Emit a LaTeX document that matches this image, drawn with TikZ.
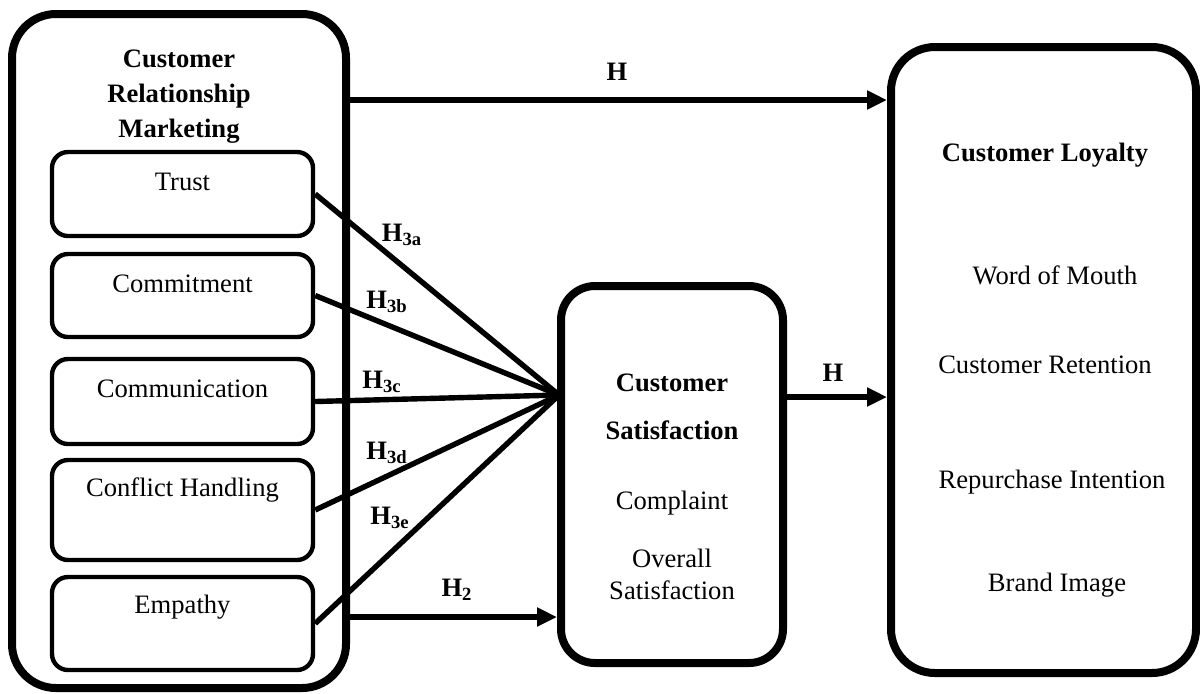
\documentclass[tikz,border=0pt]{standalone}
\usepackage{fontspec}
\setmainfont{Liberation Serif}
\usetikzlibrary{calc,arrows.meta}

\begin{document}
\begin{tikzpicture}[x=0.5pt, y=-0.5pt,
  every node/.style={font=\fontsize{13.3}{16}\selectfont},
  bigbox/.style={draw, line width=4pt, rounded corners=22pt},
  subbox/.style={draw, line width=2.2pt, rounded corners=8pt, minimum width=130.5pt},
  link/.style={line width=2.7pt},
  arr/.style={line width=3pt, -{Triangle[length=10pt,width=9pt]}},
  hyp/.style={font=\fontsize{13.3}{16}\selectfont\bfseries}]
  \useasboundingbox (0,0) rectangle (1200,693);

  % outer constructs
  \node[bigbox, minimum width=167pt, minimum height=337pt] (crm) at (179,351) {};
  \node[bigbox, rounded corners=17pt, minimum width=111pt, minimum height=188.5pt] (sat) at (672,474.5) {};
  \node[bigbox, minimum width=152.5pt, minimum height=313pt] (loyal) at (1043.5,360) {};

  \node[align=center, font=\fontsize{13.3}{17.5}\selectfont\bfseries] (crmtitle) at (179,97)
    {Customer\\Relationship\\Marketing};

  % dimensions of relationship marketing
  \foreach \nm/\txt/\yc/\hh in {trust/Trust/194/42, commit/Commitment/295.5/41.5,
      comm/Communication/401.5/42.5, conflict/Conflict Handling/510/50, empathy/Empathy/623.5/46.5}{
    \node[subbox, minimum height=\hh pt,
      label={[anchor=center, yshift=-16pt]north:\txt}] (\nm) at (182.5,\yc) {};
  }

  % satisfaction
  \node (satt1) at (672,383) {\textbf{Customer}};
  \node (satt2) at (672,430) {\textbf{Satisfaction}};
  \node (satt3) at (672,503) {Complaint};
  \node[align=center] (satt4) at (672,574) {Overall\\Satisfaction};

  % loyalty
  \node (loyaltitle) at (1045,155) {\textbf{Customer Loyalty}};
  \node (wom) at (1055,275) {Word of Mouth};
  \node (ret) at (1045,365) {Customer Retention};
  \node (rep) at (1052,482) {Repurchase Intention};
  \node (brand) at (1057,585) {Brand Image};

  % paths
  \coordinate (hub) at (559,395);
  \foreach \nm in {trust,commit,comm,conflict,empathy}
    \draw[link] (\nm.east) -- (hub);

  \draw[arr] (crm.east |- 0,100) -- (loyal.west |- 0,100);
  \draw[arr] (sat.east |- 0,397) -- (loyal.west |- 0,397);
  \draw[arr] (crm.east |- 0,617) -- (sat.west |- 0,617);

  \node[hyp] (h1) at (617,72) {H};
  \node[hyp] (h4) at (833,373) {H};
  \node[hyp] (h2) at (457,590) {H\textsubscript{2}};
  \node[hyp] (h3a) at (402,235) {H\textsubscript{3a}};
  \node[hyp] (h3b) at (387,302) {H\textsubscript{3b}};
  \node[hyp] (h3c) at (382,382) {H\textsubscript{3c}};
  \node[hyp] (h3d) at (387,453) {H\textsubscript{3d}};
  \node[hyp] (h3e) at (390,518) {H\textsubscript{3e}};
\end{tikzpicture}
\end{document}
